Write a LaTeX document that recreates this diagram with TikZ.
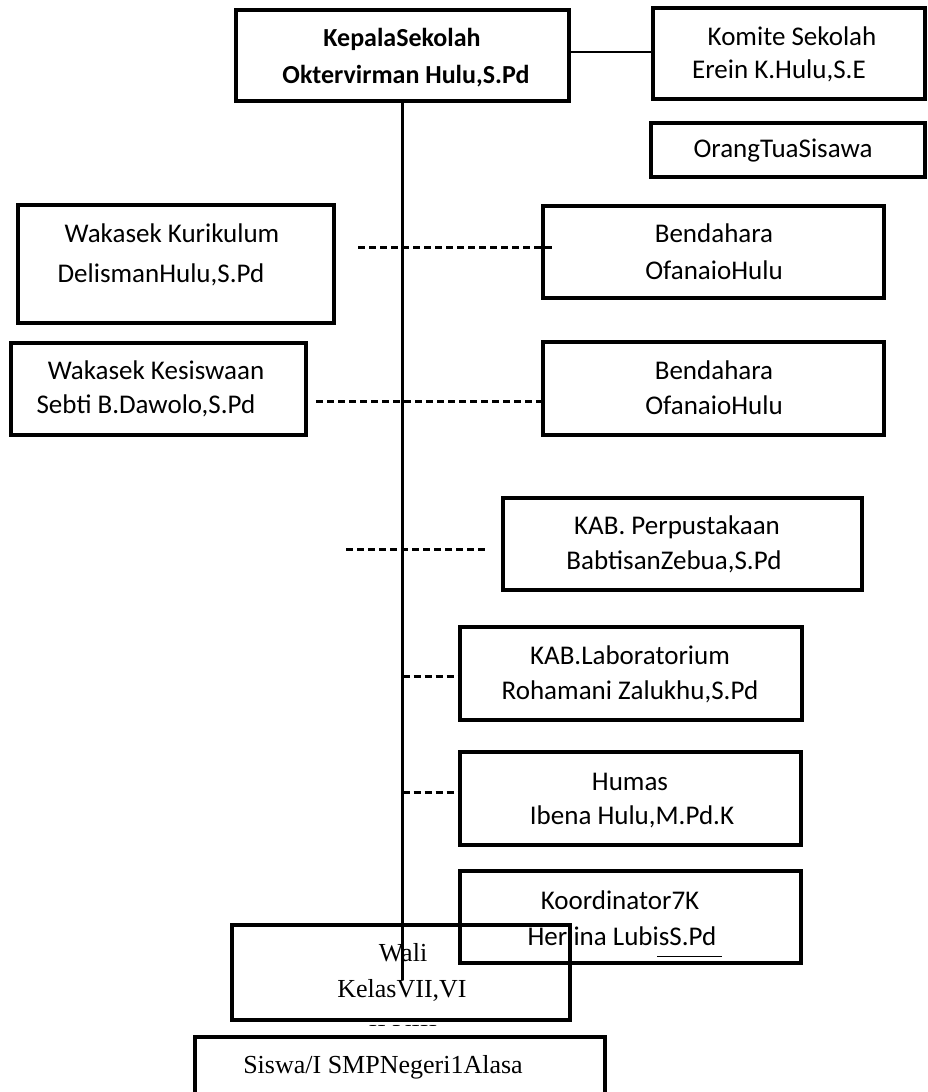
\documentclass[tikz,border=0pt]{standalone}
\usepackage{fontspec}
\setmainfont{Carlito}
\newfontfamily\tmsfont{Liberation Serif}
\begin{document}
\begin{tikzpicture}[x=1pt,y=-1pt,
  box/.style={draw,line width=3.5pt,rectangle,inner sep=0pt},
  conn/.style={line width=2.2pt},
  dashln/.style={line width=3pt,dash pattern=on 7pt off 4pt},
  txt/.style={inner sep=0pt,font=\fontsize{27}{32}\selectfont},
  txtb/.style={inner sep=0pt,font=\fontsize{26}{32}\selectfont\bfseries},
  tms/.style={inner sep=0pt,font=\fontsize{26}{32}\selectfont\tmsfont}]
\useasboundingbox (0,0) rectangle (927,1092);
\newcommand\mkbox[5]{\node[box,minimum width={(#4-#2)*1pt},minimum height={(#5-#3)*1pt}] (#1) at ({(#2+#4)/2},{(#3+#5)/2}) {};}
% boxes
\mkbox{kepala}{236}{10}{569}{101}
\mkbox{komite}{653}{8}{925}{99}
\mkbox{orang}{651}{123}{925}{177}
\mkbox{kur}{18}{205}{334}{323}
\mkbox{bendA}{543}{206}{884}{298}
\mkbox{kes}{11}{343}{306}{435}
\mkbox{bendB}{543}{342}{884}{435}
\mkbox{perp}{503}{498}{862}{590}
\mkbox{lab}{460}{627}{802}{720}
\mkbox{humas}{460}{752}{801}{845}
\mkbox{koord}{460}{871}{801}{963}
\mkbox{wali}{232}{925}{570}{1020}
\mkbox{siswa}{195}{1037}{605}{1110}
% texts
\node[txtb] (t1a) at (402,39) {KepalaSekolah};
\node[txtb] (t1b) at (406,76) {Oktervirman Hulu,S.Pd};
\node[txt] (t2a) at (792,36) {Komite Sekolah};
\node[txt] (t2b) at (779,71) {Erein K.Hulu,S.E};
\node[txt] (t3) at (783,151) {OrangTuaSisawa};
\node[txt] (t4a) at (172,233) {Wakasek Kurikulum};
\node[txt] (t4b) at (161,275) {DelismanHulu,S.Pd};
\node[txt] (t5a) at (714,233) {Bendahara};
\node[txt] (t5b) at (714,270) {OfanaioHulu};
\node[txt] (t6a) at (156,370) {Wakasek Kesiswaan};
\node[txt] (t6b) at (146,406) {Sebti B.Dawolo,S.Pd};
\node[txt] (t7a) at (714,370) {Bendahara};
\node[txt] (t7b) at (714,405) {OfanaioHulu};
\node[txt] (t8a) at (677,527) {KAB. Perpustakaan};
\node[txt] (t8b) at (674,562) {BabtisanZebua,S.Pd};
\node[txt] (t9a) at (630,655) {KAB.Laboratorium};
\node[txt] (t9b) at (630,692) {Rohamani Zalukhu,S.Pd};
\node[txt] (t10a) at (630,782) {Humas};
\node[txt] (t10b) at (632,817) {Ibena Hulu,M.Pd.K};
\node[txt] (t11a) at (620,900) {Koordinator7K};
\node[txt] (t11b) at (622,936) {Herlina LubisS.Pd};
\coordinate (ulA) at (657,956);
\coordinate (ulB) at (722,956);
\draw[line width=1pt] (ulA) -- (ulB);
\node[tms] (t12a) at (403,953) {Wali};
\node[tms] (t12b) at (402,990) {KelasVII,VI};
\begin{scope}
\clip (300,1022) rectangle (500,1025);
\node[tms] (t12c) at (403,1036) {II,VIII};
\end{scope}
\node[tms] (t13) at (383,1067) {Siswa/I SMPNegeri1Alasa};
% connectors
\coordinate (spineend) at (402.5,980);
\draw[conn] (kepala.south) -- (spineend);
\draw[conn] (kepala.east |- 0,52) -- (komite.west |- 0,52);
\coordinate (d1a) at (358,247);
\coordinate (d1b) at (555,247);
\draw[dashln] (d1a) -- (d1b);
\coordinate (d2a) at (316,401);
\draw[dashln] (d2a) -- (bendB.west |- d2a);
\coordinate (d3a) at (346,549);
\coordinate (d3b) at (488,549);
\draw[dashln] (d3a) -- (d3b);
\coordinate (d4a) at (402.5,676);
\draw[dashln] (d4a) -- (lab.west |- d4a);
\coordinate (d5a) at (402.5,792);
\draw[dashln] (d5a) -- (humas.west |- d5a);
\end{tikzpicture}
\end{document}
